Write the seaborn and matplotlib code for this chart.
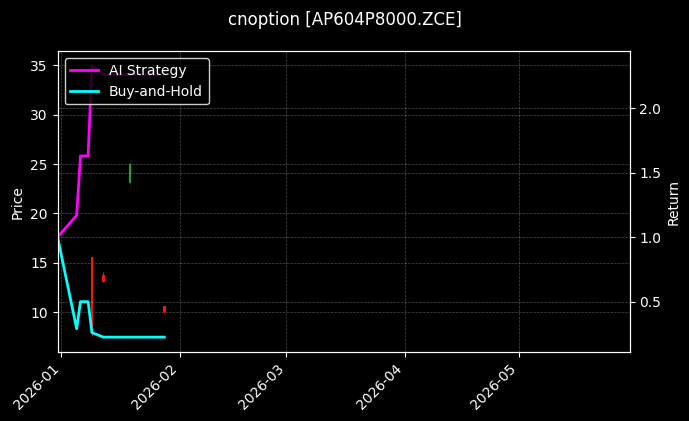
import matplotlib
matplotlib.use("Agg")
import matplotlib.pyplot as plt
import matplotlib.dates as mdates
import numpy as np
import pandas as pd
import seaborn as sns

# ---- data ----
line_dates = ["2025-12-31", "2026-01-05", "2026-01-06", "2026-01-07", "2026-01-08",
              "2026-01-09", "2026-01-12", "2026-01-13", "2026-01-14", "2026-01-15",
              "2026-01-16", "2026-01-19", "2026-01-20", "2026-01-21", "2026-01-22",
              "2026-01-23", "2026-01-26", "2026-01-27", "2026-01-28"]
ai_strategy = [1.00, 1.17, 1.63, 1.63, 1.63, 2.33, 2.26, 2.26, 2.26, 2.26,
               2.26, 2.26, 2.26, 2.26, 2.26, 2.26, 2.26, 2.26, 2.26]
buy_hold = [1.00, 0.29, 0.50, 0.50, 0.50, 0.26, 0.225, 0.225, 0.225, 0.225,
            0.225, 0.225, 0.225, 0.225, 0.225, 0.225, 0.225, 0.225, 0.225]

candle_dates = ["2026-01-06", "2026-01-09", "2026-01-12", "2026-01-19", "2026-01-28"]
candle_open = [17.05, 15.6, 13.8, 23.1, 10.6]
candle_close = [17.00, 8.0, 13.1, 25.0, 10.0]
candle_high = [17.05, 15.6, 14.1, 25.1, 10.65]
candle_low = [17.00, 7.6, 13.05, 23.1, 9.95]

title = "cnoption [AP604P8000.ZCE]"
x_start, x_end = "2025-12-31", "2026-05-30"

# ---- figure ----
plt.style.use("dark_background")
fig = plt.figure(figsize=(6.89, 4.21), dpi=100)
fig.patch.set_facecolor("black")
ax = fig.add_axes([0.0836, 0.1646, 0.8302, 0.7131])
ax.set_facecolor("black")
ax2 = ax.twinx()

cd = pd.to_datetime(candle_dates)
o = np.array(candle_open); c = np.array(candle_close)
h = np.array(candle_high); l = np.array(candle_low)
colors = ["#ff1010" if cc < oo else "#22a022" for oo, cc in zip(o, c)]
ax.vlines(cd, l, h, colors=colors, linewidth=0.8)
ax.bar(cd, np.abs(c - o), bottom=np.minimum(o, c), width=0.6, color=colors, linewidth=0)

ld = pd.to_datetime(line_dates)
df = pd.DataFrame({"date": ld, "ai": ai_strategy, "bh": buy_hold})
sns.lineplot(data=df, x="date", y="ai", ax=ax2, color="#ff00ff", linewidth=2, label="AI Strategy")
sns.lineplot(data=df, x="date", y="bh", ax=ax2, color="#00ffff", linewidth=2, label="Buy-and-Hold")

ax.set_xlim(pd.Timestamp(x_start), pd.Timestamp(x_end))
ax.set_ylim(6.0, 36.4)
ax2.set_ylim(0.112, 2.44)
ax.set_yticks([10, 15, 20, 25, 30, 35])
ax2.set_yticks([0.5, 1.0, 1.5, 2.0])

ax.xaxis.set_major_locator(mdates.MonthLocator())
ax.xaxis.set_major_formatter(mdates.DateFormatter("%Y-%m"))
plt.setp(ax.get_xticklabels(), rotation=45, ha="right")
ax2.set_xlabel("")

ax.set_ylabel("Price", color="white")
ax2.set_ylabel("Return", color="white")
ax.set_xlabel("")

ax.grid(True, linestyle="--", linewidth=0.5, alpha=0.3, color="white")
ax2.grid(True, linestyle="--", linewidth=0.5, alpha=0.3, color="white")

for a in (ax, ax2):
    for s in a.spines.values():
        s.set_color("white")

ax2.legend(loc="upper left", fontsize=10, facecolor="black", edgecolor="white", framealpha=0.8)

fig.suptitle(title, fontsize=12, color="white", y=0.975)
fig.savefig("out.png", dpi=100, facecolor="black")
